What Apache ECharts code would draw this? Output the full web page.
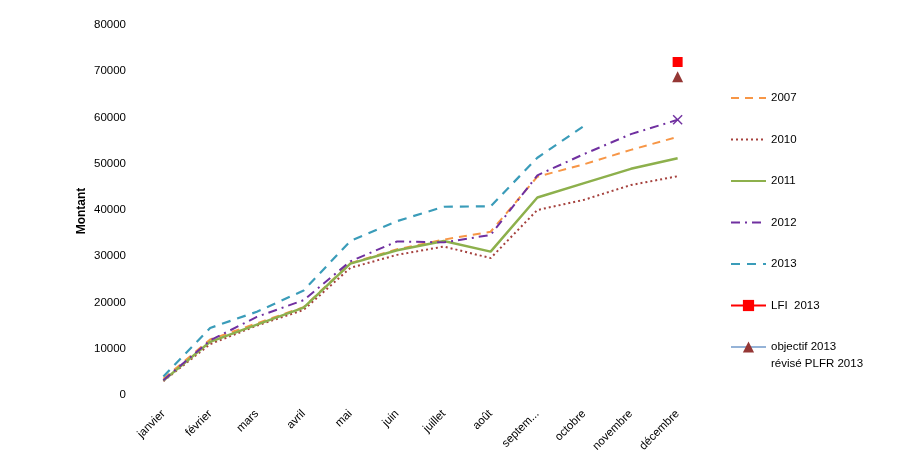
<!DOCTYPE html>
<html><head><meta charset="utf-8">
<script src="https://cdn.jsdelivr.net/npm/echarts@6/dist/echarts.min.js"></script>
<style>html,body{margin:0;padding:0;background:#fff}#c{width:906px;height:458px}</style>
</head><body><div id="c"></div>
<script>
const months = ['janvier','février','mars','avril','mai','juin','juillet','août','septem...','octobre','novembre','décembre'];
const s2007 = [3500, 12000, 15500, 19000, 28500, 31500, 33600, 35300, 47200, 49900, 53000, 55800];
const s2010 = [3000, 11000, 15000, 18400, 27500, 30300, 32100, 29600, 40000, 42200, 45400, 47300];
const s2011 = [3100, 11500, 15200, 18900, 28400, 31300, 33300, 31000, 42700, 45800, 48900, 51200];
const s2012 = [3200, 11800, 16900, 20500, 28900, 33200, 33000, 34600, 47500, 52100, 56400, 59500];
const s2013 = [4000, 14500, 18000, 22600, 33300, 37600, 40700, 40800, 51300, 58200, null, null];
const lfi2013 = [null, null, null, null, null, null, null, null, null, null, null, 72000];
const objectif2013 = [null, null, null, null, null, null, null, null, null, null, null, 68800];
const yTicks = [0, 10000, 20000, 30000, 40000, 50000, 60000, 70000, 80000];
const objName = 'objectif 2013\nrévisé PLFR 2013';

const font = 'Liberation Sans';
const chart = echarts.init(document.getElementById('c'));
const lineSeries = (name, data, color, type, width) => ({
  name, type: 'line', data, symbol: 'none', smooth: false, connectNulls: false,
  lineStyle: { color, width, type }, itemStyle: { color }
});
const s12 = s2012.map((v, i) => i === 11 ? { value: v, symbol: 'path://M0,1L1,0L5,4L9,0L10,1L6,5L10,9L9,10L5,6L1,10L0,9L4,5Z', symbolSize: 10 } : v);
const noSym = name => ({ name, itemStyle: { opacity: 0 } });
chart.setOption({
  animation: false,
  grid: { left: 140, right: 205, top: 25, bottom: 63 },
  xAxis: {
    type: 'category', data: months, boundaryGap: true,
    axisLine: { show: false }, axisTick: { show: false },
    axisLabel: { rotate: 45, color: '#000', fontFamily: font, fontSize: 11.5, margin: 17, interval: 0 }
  },
  yAxis: {
    type: 'value', min: yTicks[0], max: yTicks[yTicks.length - 1], interval: 10000,
    splitLine: { show: false }, axisLine: { show: false }, axisTick: { show: false },
    axisLabel: { color: '#000', fontFamily: font, fontSize: 11.5, margin: 14, formatter: v => String(v) }
  },
  legend: {
    orient: 'vertical', left: 725, top: 87, itemWidth: 35, itemHeight: 14, itemGap: 29.5,
    textStyle: { fontFamily: font, fontSize: 11.5, color: '#000' },
    formatter: n => n.split('\n')[0],
    data: [noSym('2007'), noSym('2010'), noSym('2011'), noSym('2012'), noSym('2013'), 'LFI  2013', objName]
  },
  graphic: [
    { type: 'text', left: 771, top: 358, style: { text: 'révisé PLFR 2013', font: '11.5px "Liberation Sans"', fill: '#000' } },
    { type: 'text', x: 82, y: 211, rotation: Math.PI / 2, style: { text: 'Montant', font: 'bold 12px "Liberation Sans"', fill: '#000', align: 'center', verticalAlign: 'middle' } }
  ],
  series: [
    lineSeries('2007', s2007, '#F79646', [8, 6], 2),
    lineSeries('2010', s2010, '#A5413D', [2, 3], 2),
    lineSeries('2011', s2011, '#8DB04C', 'solid', 2.5),
    Object.assign(lineSeries('2012', s12, '#7030A0', [9, 5, 2, 5], 2), { showSymbol: true }),
    lineSeries('2013', s2013, '#3A9CB9', [9, 7], 2.2),
    { name: 'LFI  2013', type: 'line', data: lfi2013, symbol: 'rect', symbolSize: 10,
      lineStyle: { color: '#FF0000', width: 3 }, itemStyle: { color: '#FF0000' } },
    { name: objName, type: 'line', data: objectif2013, symbol: 'triangle', symbolSize: 11,
      lineStyle: { color: '#95B3D7', width: 2 }, itemStyle: { color: '#953735' } }
  ]
});
</script></body></html>
